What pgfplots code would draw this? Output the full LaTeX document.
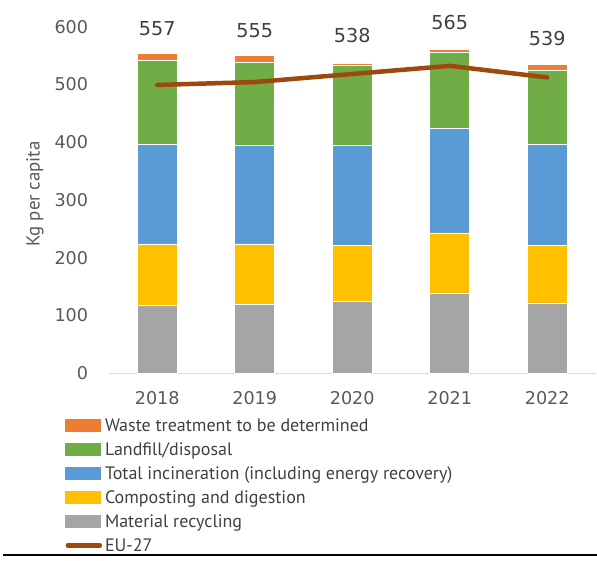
\documentclass[border=0pt]{standalone}
\usepackage{fontspec}
\setmainfont{PT Sans}
\newfontfamily\numfont{DejaVu Sans}
\usepackage{pgfplots}
\pgfplotsset{compat=1.18}
\definecolor{cWaste}{HTML}{ED7D31}
\definecolor{cLand}{HTML}{70AD47}
\definecolor{cInc}{HTML}{5B9BD5}
\definecolor{cComp}{HTML}{FFC000}
\definecolor{cRec}{HTML}{A5A5A5}
\definecolor{cLine}{HTML}{9E480E}
\definecolor{cText}{HTML}{404040}
\definecolor{cTick}{HTML}{595959}
\definecolor{cAxis}{HTML}{D9D9D9}
\begin{document}
\begin{tikzpicture}
\path[use as bounding box] (-54.25pt,-93.35pt) rectangle (244.25pt,186.65pt);
\begin{axis}[
  scale only axis, width=243.75pt, height=173.35pt,
  ybar stacked, bar width=20pt,
  xmin=-0.5, xmax=4.5, ymin=0, ymax=600,
  xtick={0,1,2,3,4}, xticklabels={2018,2019,2020,2021,2022},
  ytick={0,100,200,300,400,500,600},
  axis x line*=bottom, axis y line*=left,
  y axis line style={draw=none},
  x axis line style={draw=cAxis, line width=0.75pt, -},
  major tick length=0pt,
  clip=false,
  font=\fontsize{9}{11}\selectfont,
  /pgf/number format/assume math mode=true,
  yticklabel style={anchor=east, inner sep=0pt, xshift=-10pt, text=cTick, font=\numfont\fontsize{8.8}{10}\selectfont},
  xticklabel style={anchor=north, inner sep=0pt, yshift=-9pt, text=cTick, font=\numfont\fontsize{8.8}{10}\selectfont},
  ylabel={Kg per capita},
  ylabel style={at={(axis description cs:-0.1508,0.517)}, anchor=center, text=cTick, font=\fontsize{9.4}{11}\selectfont},
  legend cell align=left,
  legend style={at={(axis description cs:-0.0892,-0.1145)}, anchor=north west,
    draw=none, fill=none, inner sep=0pt, column sep=1.5pt, row sep=0pt,
    nodes={inner sep=0pt, text height=9pt, text depth=3pt, text=cText},
    font=\fontsize{9}{11}\selectfont},
]
\addlegendimage{legend image code/.code={\fill[cWaste] (0pt,-3pt) rectangle (17.5pt,3pt);}}
\addlegendentry{Waste treatment to be determined}
\addlegendimage{legend image code/.code={\fill[cLand] (0pt,-3pt) rectangle (17.5pt,3pt);}}
\addlegendentry{Landfill/disposal}
\addlegendimage{legend image code/.code={\fill[cInc] (0pt,-3pt) rectangle (17.5pt,3pt);}}
\addlegendentry{Total incineration (including energy recovery)}
\addlegendimage{legend image code/.code={\fill[cComp] (0pt,-3pt) rectangle (17.5pt,3pt);}}
\addlegendentry{Composting and digestion}
\addlegendimage{legend image code/.code={\fill[cRec] (0pt,-3pt) rectangle (17.5pt,3pt);}}
\addlegendentry{Material recycling}
\addlegendimage{legend image code/.code={\draw[cLine, line width=2.25pt, line cap=round] (1pt,0pt)--(17pt,0pt);}}
\addlegendentry{EU-27}

\addplot[fill=cRec, draw=white, line width=0.3pt] coordinates {(0,118) (1,120) (2,125) (3,139) (4,122)};
\addplot[fill=cComp, draw=white, line width=0.3pt] coordinates {(0,106) (1,104) (2,97) (3,104) (4,99)};
\addplot[fill=cInc, draw=white, line width=0.3pt] coordinates {(0,172) (1,170) (2,172.5) (3,181) (4,175)};
\addplot[fill=cLand, draw=white, line width=0.3pt] coordinates {(0,145) (1,144) (2,138) (3,131) (4,129)};
\addplot[fill=cWaste, draw=white, line width=0.3pt,
  nodes near coords, point meta=explicit symbolic,
  every node near coord/.style={anchor=south, inner sep=0pt, yshift=10.5pt, text=cText, font=\numfont\fontsize{9.6}{11}\selectfont}]
  coordinates {(0,12) [557] (1,12) [555] (2,4) [538] (3,5) [565] (4,9) [539]};
\end{axis}
\begin{axis}[
  scale only axis, width=243.75pt, height=173.35pt,
  xmin=-0.5, xmax=4.5, ymin=0, ymax=600, hide axis]
\addplot[cLine, line width=2.25pt, line cap=round, line join=round] coordinates {(0,499) (1,504) (2,518) (3,532) (4,512)};
\end{axis}
\draw[black, line width=0.75pt] (-52.75pt,-90.85pt) -- (244.25pt,-90.85pt);
\end{tikzpicture}
\end{document}
